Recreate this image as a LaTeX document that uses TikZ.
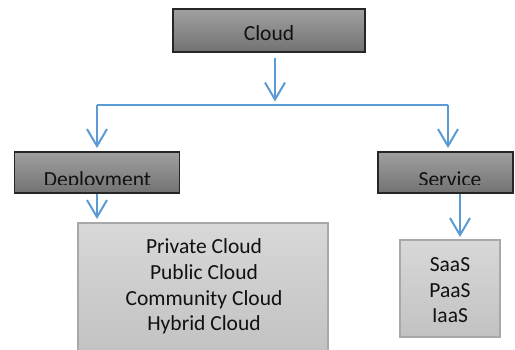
\documentclass[tikz,border=0pt]{standalone}
\usepackage{fontspec}
\setmainfont{Carlito}
\usetikzlibrary{arrows.meta}
\definecolor{arrowblue}{HTML}{5B9BD5}
\definecolor{darktop}{HTML}{A0A0A0}
\definecolor{darkbot}{HTML}{727272}
\definecolor{lighttop}{HTML}{D8D8D8}
\definecolor{lightbot}{HTML}{C2C2C2}
\definecolor{lightedge}{HTML}{A8A8A8}
\definecolor{txt}{HTML}{111111}
\tikzset{
  darkbox/.style={draw=black!85, line width=1.3pt, top color=darktop, bottom color=darkbot, inner sep=0pt},
  lightbox/.style={draw=lightedge, line width=1.2pt, top color=lighttop, bottom color=lightbot, inner sep=0pt},
  lbl/.style={font=\fontsize{21.5}{25}\selectfont, text=txt, inner sep=0pt, anchor=base},
  conn/.style={draw=arrowblue, line width=2pt},
  tip/.style={-{Straight Barb[length=17pt,width=20pt,line width=2pt]}}
}
\begin{document}
\begin{tikzpicture}[x=1pt,y=-1pt]
\useasboundingbox (0,0) rectangle (515,349);
\clip (0,0) rectangle (515,349);
% boxes
\node[darkbox, minimum width=192pt, minimum height=43pt] (cloud) at (269,30.5) {};
\node[darkbox, minimum width=165pt, minimum height=41pt] (dep) at (97,172.5) {};
\node[darkbox, minimum width=135pt, minimum height=41pt] (serv) at (445.5,172.5) {};
\node[lightbox, minimum width=250pt, minimum height=132pt] (deplist) at (203,289) {};
\node[lightbox, minimum width=100pt, minimum height=97pt] (servlist) at (450,288.5) {};
% titles
\node[lbl] (cloudt) at (269,40) {Cloud};
\begin{scope}
  \clip (0,150) rectangle (515,184.5);
  \node[lbl] (dept) at (97.5,186) {Deployment};
  \node[lbl] (servt) at (450,186) {Service};
\end{scope}
% list texts
\node[lbl] (d1) at (204,253) {Private Cloud};
\node[lbl] (d2) at (204,279.5) {Public Cloud};
\node[lbl] (d3) at (204,305.5) {Community Cloud};
\node[lbl] (d4) at (204,330.5) {Hybrid Cloud};
\node[lbl] (s1) at (450,271.5) {SaaS};
\node[lbl] (s2) at (450,297) {PaaS};
\node[lbl] (s3) at (450,322.5) {IaaS};
% connectors
\coordinate (split) at (275,105);
\coordinate (lb) at (97,105);
\coordinate (rb) at (448,105);
\draw[conn, tip] (275,58) -- (275,101.5);
\draw[conn, line width=1.6pt] (lb) -- (rb);
\draw[conn, tip] (lb) -- (97,148);
\draw[conn, tip] (rb) -- (448,148);
\draw[conn, tip] (dep.south -| 97,0) -- (97,219);
\draw[conn, tip] (serv.south -| 460,0) -- (460,237);
\end{tikzpicture}
\end{document}
